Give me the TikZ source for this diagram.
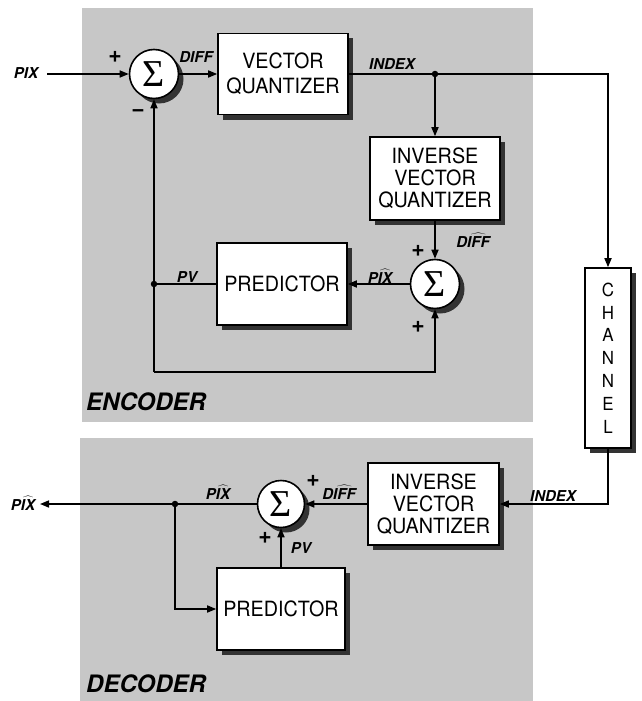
\documentclass[tikz,border=0pt]{standalone}
\usepackage{fontspec}
\setmainfont{TeX Gyre Heros}
\newfontfamily\boxfont{TeX Gyre Heros}[FakeStretch=0.94]
\newfontfamily\sigfont{Liberation Serif}
\usetikzlibrary{arrows.meta,shadows}
\begin{document}
\begin{tikzpicture}[x=1pt,y=-1pt,
  bg/.style={fill=black!22, draw=none},
  shad/.style={drop shadow={shadow xshift=5pt, shadow yshift=-5pt, fill=black!80, opacity=1}},
  blk/.style={draw, line width=1.6pt, fill=white, align=center, inner sep=0pt, shad,
     font=\boxfont\fontsize{21}{25}\selectfont},
  sumnode/.style={circle, draw, line width=1.6pt, fill=white, minimum size=49pt, inner sep=0pt, shad,
     font=\sigfont\fontsize{38}{38}\selectfont},
  lbl/.style={font=\bfseries\itshape\fontsize{15}{15}\selectfont, inner sep=0pt},
  sgn/.style={font=\bfseries\fontsize{23}{23}\selectfont, inner sep=0pt},
  title/.style={font=\bfseries\itshape\fontsize{24}{24}\selectfont, inner sep=0pt, anchor=west},
  wire/.style={line width=1.6pt},
  arr/.style={wire, -{Triangle[length=9pt,width=7pt]}},
  dotnode/.style={circle, fill, inner sep=0pt, minimum size=6.5pt},
]
\useasboundingbox (0,0) rectangle (642,701);
% backgrounds
\fill[bg] (82,8) rectangle (533,422);
\fill[bg] (80,438) rectangle (533,701);

% ---------- encoder ----------
\node[lbl] (pixin) at (26,73) {PIX};
\coordinate (pixstart) at (47,74);
\node[sumnode] (sum1) at (154,74) {Σ};
\node[sgn] (p1) at (115,57) {+};
\node[sgn] (m1) at (138,113) {−};
\node[lbl] (diff1) at (196,57) {DIFF};
\node[blk, minimum width=130pt, minimum height=81pt] (vq) at (283,74) {VECTOR\\QUANTIZER};
\node[lbl] (idx1) at (392,64) {INDEX};
\node[dotnode] (dot1) at (435,74) {};
\coordinate (c1) at (608,74);
\node[blk, minimum width=46pt, minimum height=180pt, font=\boxfont\fontsize{18}{22.8}\selectfont] (chan) at (608,358) {C\\H\\A\\N\\N\\E\\L};
\node[blk, minimum width=130pt, minimum height=83pt, font=\boxfont\fontsize{21}{22}\selectfont] (ivq) at (435,178.5) {INVERSE\\VECTOR\\QUANTIZER};
\node[lbl] (diffh1) at (473,240) {D$\widehat{\mbox{IFF}}$};
\node[sumnode] (sum2) at (435,284) {Σ};
\node[sgn] (p2) at (418,251) {+};
\node[sgn] (p3) at (418,327) {+};
\node[lbl] (pixh1) at (380,276) {P$\widehat{\mbox{IX}}$};
\node[blk, minimum width=130pt, minimum height=82pt] (pred1) at (282,284) {PREDICTOR};
\node[lbl] (pv1) at (187,277) {PV};
\node[dotnode] (dot2) at (154,284) {};
\coordinate (c2) at (154,372);
\coordinate (c3) at (435,372);
\node[title] (enc) at (86,402) {ENCODER};

\draw[arr] (pixstart) -- (sum1);
\draw[arr] (sum1) -- (vq);
\draw[arr] (vq) -- (c1) -- (chan);
\draw[arr] (dot1) -- (ivq);
\draw[arr] (ivq) -- (sum2);
\draw[arr] (sum2) -- (pred1);
\draw[wire] (pred1) -- (dot2);
\draw[arr] (c2) -- (sum1);
\draw[arr] (c2) -- (c3) -- (sum2);

% ---------- decoder ----------
\coordinate (c4) at (608,504);
\node[lbl] (idx2) at (553,496) {INDEX};
\node[blk, minimum width=131pt, minimum height=82pt, font=\boxfont\fontsize{21}{22}\selectfont] (ivq2) at (433.5,504) {INVERSE\\VECTOR\\QUANTIZER};
\node[sumnode, minimum size=47pt] (sum3) at (281,504) {Σ};
\node[lbl] (diffh2) at (339,492) {D$\widehat{\mbox{IFF}}$};
\node[sgn] (p4) at (313,481) {+};
\node[sgn] (p5) at (265,538) {+};
\node[lbl] (pv2) at (301,548) {PV};
\node[lbl] (pixh2) at (218,492) {P$\widehat{\mbox{IX}}$};
\node[dotnode] (dot3) at (175,504) {};
\coordinate (pixout) at (40,504);
\node[lbl] (pixh3) at (23,503) {P$\widehat{\mbox{IX}}$};
\node[blk, minimum width=128pt, minimum height=82pt] (pred2) at (281,609) {PREDICTOR};
\coordinate (c5) at (175,609);
\node[title] (dec) at (86,684) {DECODER};

\draw[arr] (chan) -- (c4) -- (ivq2);
\draw[arr] (ivq2) -- (sum3);
\draw[arr] (sum3) -- (pixout);
\draw[arr] (dot3) -- (c5) -- (pred2);
\draw[arr] (pred2) -- (sum3);
\end{tikzpicture}
\end{document}
